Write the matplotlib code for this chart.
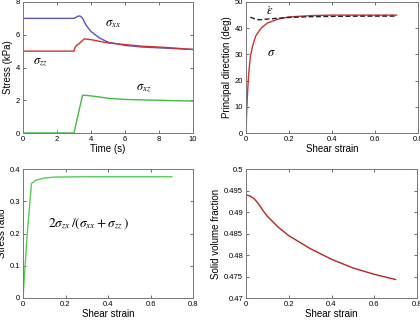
import matplotlib
matplotlib.use("Agg")
import matplotlib.pyplot as plt

plt.rcParams['font.family'] = ['Liberation Sans', 'DejaVu Sans']
plt.rcParams['mathtext.fontset'] = 'stix'

# panel 1: stresses vs time
t = [0, 3.0, 3.1, 3.2, 3.35, 3.5, 3.7, 4.0, 4.5, 5.0, 6.0, 7.0, 8.0, 9.0, 10.0]
sig_xx = [7.0, 7.0, 7.05, 7.12, 7.15, 7.02, 6.6, 6.2, 5.8, 5.55, 5.35, 5.25, 5.2, 5.15, 5.1]
t_zz = [0, 3.0, 3.05, 3.15, 3.3, 3.6, 4.0, 4.5, 5.0, 6.0, 7.0, 8.0, 9.0, 10.0]
sig_zz = [5.0, 5.0, 5.2, 5.35, 5.45, 5.75, 5.7, 5.6, 5.5, 5.4, 5.3, 5.25, 5.18, 5.1]
t_xz = [0, 3.0, 3.5, 3.7, 4.5, 5.0, 6.0, 7.0, 8.0, 9.0, 10.0]
sig_xz = [0, 0, 2.3, 2.3, 2.2, 2.12, 2.05, 2.02, 2.0, 1.97, 1.95]

# panel 2: principal directions vs shear strain
g_sig = [0, 0.003, 0.007, 0.012, 0.02, 0.03, 0.045, 0.07, 0.1, 0.15, 0.2, 0.3, 0.4, 0.55, 0.7]
ang_sig = [0, 8, 15, 22, 29, 33, 37, 40, 42, 43.5, 44.3, 44.8, 45, 45, 45]
g_eps = [0.02, 0.04, 0.06, 0.08, 0.1, 0.15, 0.2, 0.3, 0.4, 0.55, 0.7]
ang_eps = [44.2, 43.6, 43.2, 43.3, 43.5, 43.8, 44.1, 44.4, 44.5, 44.6, 44.6]

# panel 3: stress ratio
g_ratio = [0, 0.02, 0.04, 0.06, 0.1, 0.15, 0.3, 0.5, 0.7]
ratio = [0, 0.2, 0.355, 0.365, 0.372, 0.375, 0.376, 0.376, 0.376]

# panel 4: solid volume fraction
g_phi = [0, 0.02, 0.04, 0.06, 0.08, 0.1, 0.15, 0.2, 0.3, 0.4, 0.5, 0.6, 0.7]
phi = [0.494, 0.4937, 0.493, 0.4918, 0.4903, 0.489, 0.4865, 0.4845, 0.4815, 0.479, 0.477, 0.4755, 0.4743]

fig = plt.figure(figsize=(4.2, 3.24), dpi=100)
W, H = 420.0, 324.0

def mkax(l, r, t_, b):
    return fig.add_axes([l / W, 1 - b / H, (r - l) / W, (b - t_) / H])

ax1 = mkax(23, 193, 2, 133)
ax2 = mkax(246, 418, 2, 133)
ax3 = mkax(23, 193, 169, 298)
ax4 = mkax(246, 417, 169, 298)

for ax in (ax1, ax2, ax3, ax4):
    ax.tick_params(direction='in', top=True, right=True, labelsize=5.5,
                   length=2.5, width=0.6, color='#555555', pad=2)
    for s in ax.spines.values():
        s.set_color('#777777')
        s.set_linewidth(0.7)

ax1.plot(t, sig_xx, color='#5555bb', lw=1)
ax1.plot(t_zz, sig_zz, color='#cc3333', lw=1)
ax1.plot(t_xz, sig_xz, color='#44bb44', lw=1)
ax1.set_xlim(0, 10)
ax1.set_ylim(0, 8)
ax1.set_xticks([0, 2, 4, 6, 8, 10])
ax1.set_yticks([0, 2, 4, 6, 8])
ax1.set_xlabel('Time (s)', fontsize=7, labelpad=1)
ax1.set_ylabel('Stress (kPa)', fontsize=7, labelpad=2)
ax1.text(5.3, 6.65, r'$\sigma_{xx}$', fontsize=9, ha='center', va='center')
ax1.text(1.05, 4.33, r'$\sigma_{zz}$', fontsize=9, ha='center', va='center')
ax1.text(7.1, 2.75, r'$\sigma_{xz}$', fontsize=9, ha='center', va='center')

ax2.plot(g_sig, ang_sig, color='#cc3333', lw=1)
ax2.plot(g_eps, ang_eps, color='#222222', lw=1, ls=(0, (3.5, 1.8)))
ax2.set_xlim(0, 0.8)
ax2.set_ylim(0, 50)
ax2.set_xticks([0, 0.2, 0.4, 0.6, 0.8])
ax2.set_xticklabels(['0', '0.2', '0.4', '0.6', '0.8'])
ax2.set_yticks([0, 10, 20, 30, 40, 50])
ax2.set_xlabel('Shear strain', fontsize=7, labelpad=1)
ax2.set_ylabel('Principal direction (deg)', fontsize=7, labelpad=2)
ax2.text(0.11, 46.5, r'$\dot{\varepsilon}$', fontsize=9, ha='center', va='center')
ax2.text(0.12, 30.5, r'$\sigma$', fontsize=9, ha='center', va='center')

ax3.plot(g_ratio, ratio, color='#55cc55', lw=1)
ax3.set_xlim(0, 0.8)
ax3.set_ylim(0, 0.4)
ax3.set_xticks([0, 0.2, 0.4, 0.6, 0.8])
ax3.set_xticklabels(['0', '0.2', '0.4', '0.6', '0.8'])
ax3.set_yticks([0, 0.1, 0.2, 0.3, 0.4])
ax3.set_yticklabels(['0', '0.1', '0.2', '0.3', '0.4'])
ax3.set_xlabel('Shear strain', fontsize=7, labelpad=1)
ax3.set_ylabel('Stress ratio', fontsize=7, labelpad=2)
ax3.text(0.12, 0.23, r'$2\sigma_{zx}\,/(\sigma_{xx}+\sigma_{zz}\,)$', fontsize=9.5,
         ha='left', va='center')

ax4.plot(g_phi, phi, color='#bb2222', lw=1)
ax4.set_xlim(0, 0.8)
ax4.set_ylim(0.47, 0.5)
ax4.set_xticks([0, 0.2, 0.4, 0.6, 0.8])
ax4.set_xticklabels(['0', '0.2', '0.4', '0.6', '0.8'])
ax4.set_yticks([0.47, 0.475, 0.48, 0.485, 0.49, 0.495, 0.5])
ax4.set_yticklabels(['0.47', '0.475', '0.48', '0.485', '0.49', '0.495', '0.5'])
ax4.set_xlabel('Shear strain', fontsize=7, labelpad=1)
ax4.set_ylabel('Solid volume fraction', fontsize=7, labelpad=2)

fig.savefig('out.png', dpi=100)
